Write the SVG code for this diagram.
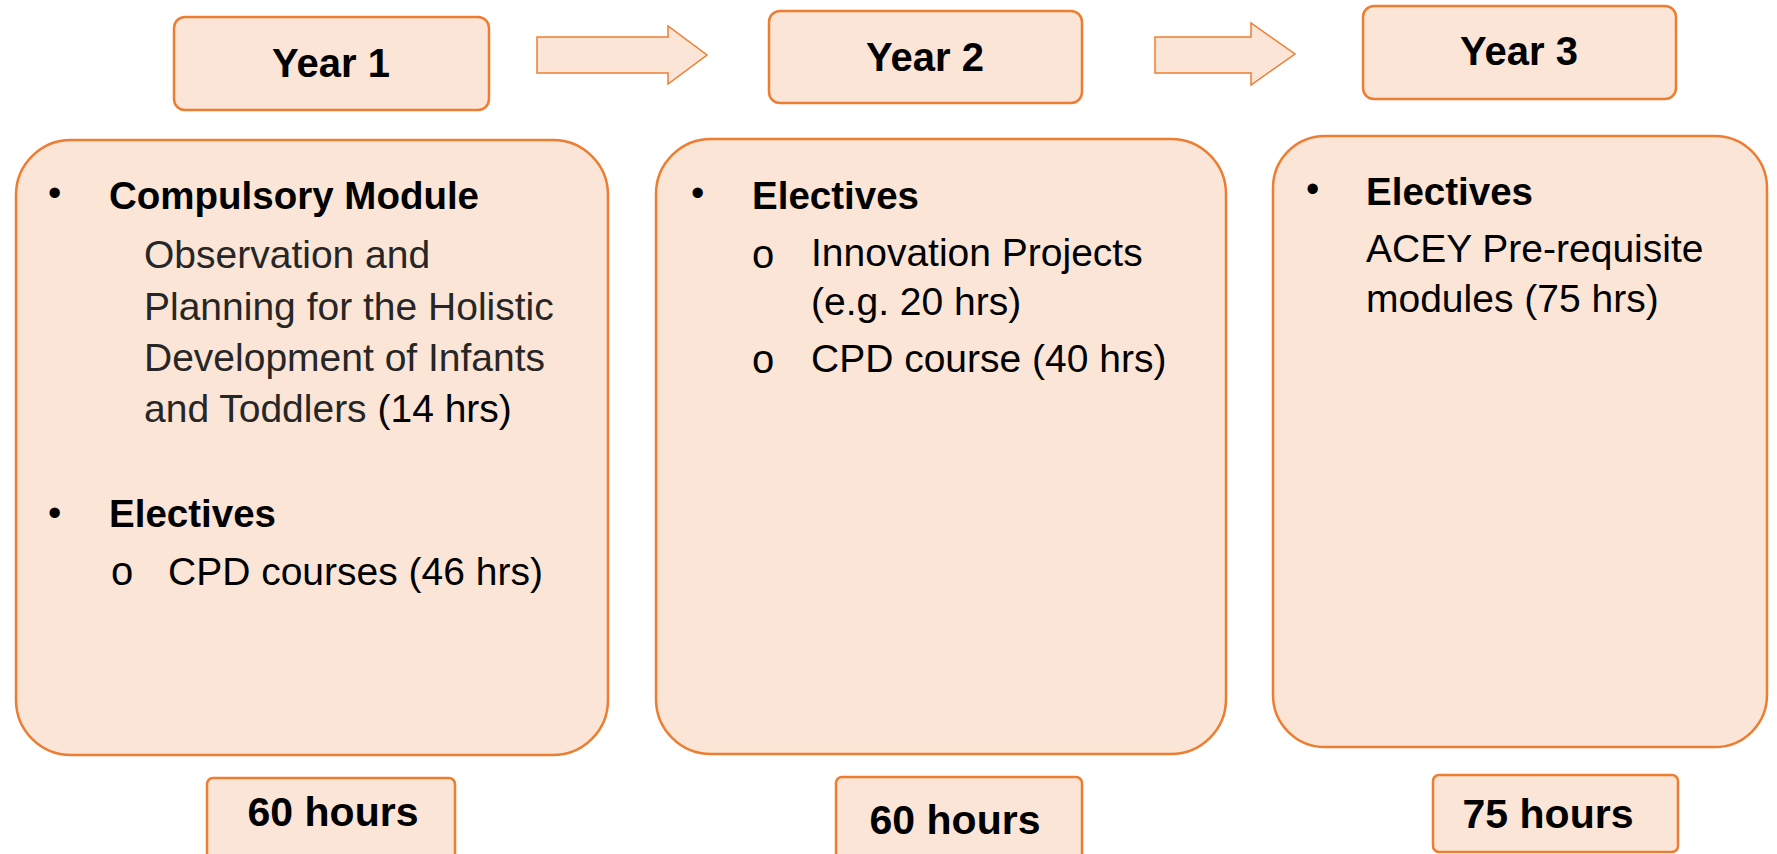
<svg xmlns="http://www.w3.org/2000/svg" width="1777" height="854" viewBox="0 0 1777 854">
<style>
.box{fill:#FBE5D6;stroke:#ED7D31;stroke-width:2.5}
.arrow{fill:#FBE5D6;stroke:#ED7D31;stroke-width:1.5}
.t{font-family:"Liberation Sans",Arial,sans-serif;fill:#000}
.hdr{font-size:40px;font-weight:bold;text-anchor:middle}
.hrs{font-size:41px;font-weight:bold;text-anchor:middle}
.h2{font-size:38.5px;font-weight:bold}
.n{font-size:39px}
.g{fill:#262626}
.bul{font-size:38px}
.cir{font-size:40px}
</style>
<rect width="1777" height="854" fill="#fff"/>
<g id="connectors">
<polygon class="arrow" points="537,37 668,37 668,26 707,55 668,84 668,73 537,73"/>
<polygon class="arrow" points="1155,37 1251,37 1251,23 1295,54 1251,85 1251,73 1155,73"/>
</g>
<g id="year1">
<rect class="box" x="174" y="17" width="315" height="93" rx="11"/>
<text class="t hdr" x="331" y="77">Year 1</text>
</g>
<g id="year2">
<rect class="box" x="769" y="11" width="313" height="92" rx="11"/>
<text class="t hdr" x="925" y="71">Year 2</text>
</g>
<g id="year3">
<rect class="box" x="1363" y="6" width="313" height="93" rx="11"/>
<text class="t hdr" x="1519" y="65">Year 3</text>
</g>
<g id="content1">
<rect class="box" x="16" y="140" width="592" height="615" rx="55"/>
<text class="t bul" x="48" y="206">•</text>
<text class="t h2" x="109" y="209">Compulsory Module</text>
<text class="t n g" x="144" y="268">Observation and</text>
<text class="t n g" x="144" y="320">Planning for the Holistic</text>
<text class="t n g" x="144" y="371">Development of Infants</text>
<text class="t n g" x="144" y="422">and Toddlers <tspan fill="#000">(14 hrs)</tspan></text>
<text class="t bul" x="48" y="526">•</text>
<text class="t h2" x="109" y="527">Electives</text>
<text class="t cir" x="111" y="585">o</text>
<text class="t n" x="168" y="585">CPD courses (46 hrs)</text>
</g>
<g id="content2">
<rect class="box" x="656" y="139" width="570" height="615" rx="55"/>
<text class="t bul" x="691" y="206">•</text>
<text class="t h2" x="752" y="209">Electives</text>
<text class="t cir" x="752" y="268">o</text>
<text class="t n" x="811" y="266">Innovation Projects</text>
<text class="t n" x="811" y="315">(e.g. 20 hrs)</text>
<text class="t cir" x="752" y="373">o</text>
<text class="t n" x="811" y="372">CPD course (40 hrs)</text>
</g>
<g id="content3">
<rect class="box" x="1273" y="136" width="494" height="611" rx="52"/>
<text class="t bul" x="1306" y="202">•</text>
<text class="t h2" x="1366" y="205">Electives</text>
<text class="t n" x="1366" y="262">ACEY Pre-requisite</text>
<text class="t n" x="1366" y="312">modules (75 hrs)</text>
</g>
<g id="hours1">
<rect class="box" x="207" y="778" width="248" height="84" rx="6"/>
<text class="t hrs" x="333" y="826">60 hours</text>
</g>
<g id="hours2">
<rect class="box" x="836" y="777" width="246" height="84" rx="6"/>
<text class="t hrs" x="955" y="834">60 hours</text>
</g>
<g id="hours3">
<rect class="box" x="1433" y="775" width="245" height="77" rx="6"/>
<text class="t hrs" x="1548" y="828">75 hours</text>
</g>
</svg>
